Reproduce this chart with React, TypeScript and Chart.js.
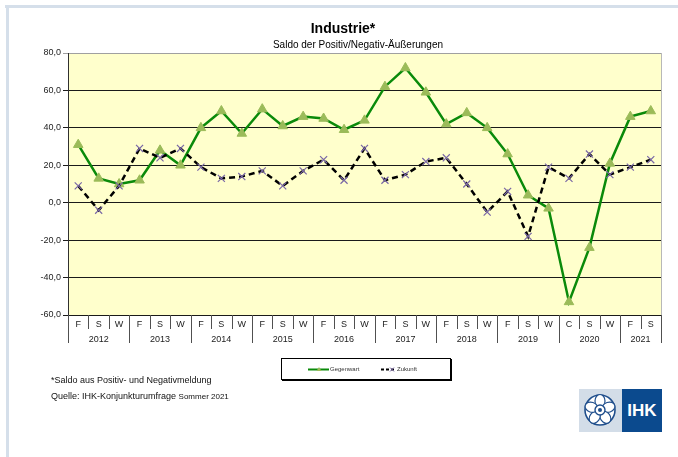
import React, { useEffect, useRef } from 'react';
import { Chart, registerables } from 'chart.js';

Chart.register(...registerables);

// ---- data ----
const seasons = ['F', 'S', 'W', 'F', 'S', 'W', 'F', 'S', 'W', 'F', 'S', 'W', 'F', 'S', 'W', 'F', 'S', 'W', 'F', 'S', 'W', 'F', 'S', 'W', 'C', 'S', 'W', 'F', 'S'];
const years = ['2012', '2013', '2014', '2015', '2016', '2017', '2018', '2019', '2020', '2021'];
const yearSpans = [3, 3, 3, 3, 3, 3, 3, 3, 3, 2];
const gegenwart = [31, 13, 10, 12, 28, 20, 40, 49, 37, 50, 41, 46, 45, 39, 44, 62, 72, 59, 42, 48, 40, 26, 4, -3, -53, -24, 21, 46, 49];
const zukunft = [9, -4, 9, 29, 24, 29, 19, 13, 14, 17, 9, 17, 23, 12, 29, 12, 15, 22, 24, 10, -5, 6, -18, 19, 13, 26, 15, 19, 23];
const yMin = -60;
const yMax = 80;
const yStep = 20;

const categoryLabels = seasons.map((s, i) => {
  let acc = 0;
  for (let k = 0; k < yearSpans.length; k++) {
    if (i < acc + yearSpans[k]) return `${s} ${years[k]}`;
    acc += yearSpans[k];
  }
  return s;
});

const FONT = 'Arial, "Liberation Sans", sans-serif';

const multiAxisPlugin = {
  id: 'multiAxis',
  beforeDraw(chart: any) {
    const { ctx, chartArea } = chart;
    ctx.save();
    ctx.fillStyle = '#FFFFCC';
    ctx.fillRect(chartArea.left, chartArea.top, chartArea.right - chartArea.left, chartArea.bottom - chartArea.top);
    ctx.restore();
  },
  afterDraw(chart: any) {
    const { ctx, chartArea } = chart;
    const { left, right, top, bottom } = chartArea;
    const xs = chart.scales.x;
    const n = seasons.length;
    const w = (right - left) / n;
    const boundaries = new Set<number>();
    let acc = 0;
    boundaries.add(0);
    yearSpans.forEach((s) => {
      acc += s;
      boundaries.add(acc);
    });
    ctx.save();
    // right border
    ctx.strokeStyle = '#B8B8B8';
    ctx.lineWidth = 1;
    ctx.beginPath();
    ctx.moveTo(Math.round(right) + 0.5, top);
    ctx.lineTo(Math.round(right) + 0.5, bottom);
    ctx.stroke();
    // separators
    ctx.strokeStyle = '#505050';
    for (let i = 0; i <= n; i++) {
      const x = Math.round(left + w * i) + 0.5;
      const y2 = boundaries.has(i) ? bottom + 28 : bottom + 14;
      ctx.beginPath();
      ctx.moveTo(x, bottom);
      ctx.lineTo(x, y2);
      ctx.stroke();
    }
    ctx.fillStyle = '#222';
    ctx.font = `9px ${FONT}`;
    ctx.textAlign = 'center';
    ctx.textBaseline = 'middle';
    seasons.forEach((s, i) => {
      ctx.fillText(s, xs.getPixelForValue(i), bottom + 9.5);
    });
    let start = 0;
    years.forEach((y, k) => {
      const a = xs.getPixelForValue(start);
      const b = xs.getPixelForValue(start + yearSpans[k] - 1);
      ctx.fillText(y, (a + b) / 2, bottom + 24.5);
      start += yearSpans[k];
    });
    ctx.restore();
  },
};

function ChartCanvas() {
  const ref = useRef<HTMLCanvasElement>(null);
  useEffect(() => {
    if (!ref.current) return;
    const chart = new Chart(ref.current, {
      type: 'line',
      data: {
        labels: categoryLabels,
        datasets: [
          {
            label: 'Gegenwart',
            data: gegenwart,
            borderColor: '#0A8A0A',
            borderWidth: 2.5,
            pointStyle: 'triangle',
            pointRadius: 5.5,
            pointBackgroundColor: '#9BBB59',
            pointBorderColor: '#9BBB59',
            pointBorderWidth: 1,
            tension: 0,
            order: 2,
          },
          {
            label: 'Zukunft',
            data: zukunft,
            borderColor: '#000000',
            borderWidth: 2.5,
            borderDash: [6, 4],
            pointStyle: 'crossRot',
            pointRadius: 5,
            pointBorderColor: '#7A68A6',
            pointBackgroundColor: '#7A68A6',
            pointBorderWidth: 1.2,
            tension: 0,
            order: 1,
          },
        ],
      },
      options: {
        responsive: false,
        animation: false,
        layout: { padding: { left: 8, right: 17, top: 53, bottom: 142 } },
        plugins: {
          legend: { display: false },
          title: { display: false },
          tooltip: { enabled: false },
        },
        scales: {
          x: {
            display: false,
            offset: true,
          },
          y: {
            min: yMin,
            max: yMax,
            afterFit(scale: any) {
              scale.width = 60;
            },
            ticks: {
              stepSize: yStep,
              color: '#222',
              font: { family: FONT, size: 9 },
              padding: 2,
              callback: (v: any) => Number(v).toFixed(1).replace('.', ','),
            },
            grid: {
              color: (c: any) => (c.tick && c.tick.value === yMax ? '#A0A0A0' : '#1a1a1a'),
              lineWidth: 1,
              tickLength: 5,
            },
            border: { display: true, color: '#303030', width: 1 },
          },
        },
      },
      plugins: [multiAxisPlugin],
    });
    return () => chart.destroy();
  }, []);
  return <canvas ref={ref} width={678} height={457} style={{ position: 'absolute', left: 0, top: 0, width: 678, height: 457 }} />;
}

function Logo() {
  const petals = [0, 72, 144, 216, 288];
  return (
    <div style={{ position: 'absolute', left: 579, top: 389, width: 83, height: 43, display: 'flex' }}>
      <div style={{ width: 43, height: 43, background: '#D3DDE8', position: 'relative' }}>
        <svg width={43} height={43} viewBox="0 0 43 43">
          <circle cx={21} cy={21} r={15} fill="#ffffff" stroke="#1F4E8C" strokeWidth={1.6} />
          {petals.map((a) => (
            <ellipse
              key={a}
              cx={21}
              cy={12}
              rx={5}
              ry={6.5}
              fill="#ffffff"
              stroke="#1F4E8C"
              strokeWidth={1.2}
              transform={`rotate(${a} 21 21)`}
            />
          ))}
          <circle cx={21} cy={21} r={5} fill="#ffffff" stroke="#1F4E8C" strokeWidth={1.4} />
          <circle cx={21} cy={21} r={2} fill="#1F4E8C" />
        </svg>
      </div>
      <div
        style={{
          width: 40,
          height: 43,
          background: '#0B4A8E',
          color: '#fff',
          fontFamily: FONT,
          fontWeight: 'bold',
          fontSize: 17,
          display: 'flex',
          alignItems: 'center',
          justifyContent: 'center',
        }}
      >
        IHK
      </div>
    </div>
  );
}

function Legend() {
  return (
    <div
      style={{
        position: 'absolute',
        left: 281,
        top: 358,
        width: 168,
        height: 20,
        border: '1px solid #000',
        boxShadow: '1px 1px 0 #000',
        background: '#fff',
        fontFamily: FONT,
        fontSize: 6,
        color: '#333',
      }}
    >
      <svg width={168} height={20} style={{ position: 'absolute', left: 0, top: 0 }}>
        <line x1={26} y1={10.5} x2={47} y2={10.5} stroke="#0A8A0A" strokeWidth={2} />
        <polygon points="37,8 39.5,12 34.5,12" fill="#9BBB59" />
        <line x1={99} y1={10.5} x2={114} y2={10.5} stroke="#000" strokeWidth={2} strokeDasharray="3,2" />
        <line x1={108} y1={8.5} x2={112} y2={12.5} stroke="#7A68A6" strokeWidth={1} />
        <line x1={112} y1={8.5} x2={108} y2={12.5} stroke="#7A68A6" strokeWidth={1} />
      </svg>
      <span style={{ position: 'absolute', left: 48, top: 7, lineHeight: '7px' }}>Gegenwart</span>
      <span style={{ position: 'absolute', left: 115, top: 7, lineHeight: '7px' }}>Zukunft</span>
    </div>
  );
}

export default function App() {
  return (
    <div style={{ position: 'fixed', left: 0, top: 0, width: 678, height: 457, background: '#fff', overflow: 'hidden' }}>
      <div style={{ position: 'absolute', left: 5, top: 5, width: 673, height: 3, background: '#D5DFEA' }} />
      <div style={{ position: 'absolute', left: 6, top: 5, width: 3, height: 452, background: '#D5DFEA' }} />
      <ChartCanvas />
      <div
        style={{
          position: 'absolute',
          left: 243,
          width: 200,
          top: 20,
          textAlign: 'center',
          fontFamily: FONT,
          fontWeight: 'bold',
          fontSize: 14,
          lineHeight: '16px',
          color: '#000',
        }}
      >
        Industrie*
      </div>
      <div
        style={{
          position: 'absolute',
          left: 208,
          width: 300,
          top: 39,
          textAlign: 'center',
          fontFamily: FONT,
          fontSize: 10,
          lineHeight: '12px',
          color: '#000',
        }}
      >
        Saldo der Positiv/Negativ-Äußerungen
      </div>
      <Legend />
      <div style={{ position: 'absolute', left: 51, top: 375, fontFamily: FONT, fontSize: 9, lineHeight: '11px', color: '#111' }}>
        *Saldo aus Positiv- und Negativmeldung
      </div>
      <div style={{ position: 'absolute', left: 51, top: 391, fontFamily: FONT, fontSize: 9, lineHeight: '11px', color: '#111', whiteSpace: 'nowrap' }}>
        Quelle: IHK-Konjunkturumfrage <span style={{ fontSize: 8 }}>Sommer 2021</span>
      </div>
      <Logo />
    </div>
  );
}
